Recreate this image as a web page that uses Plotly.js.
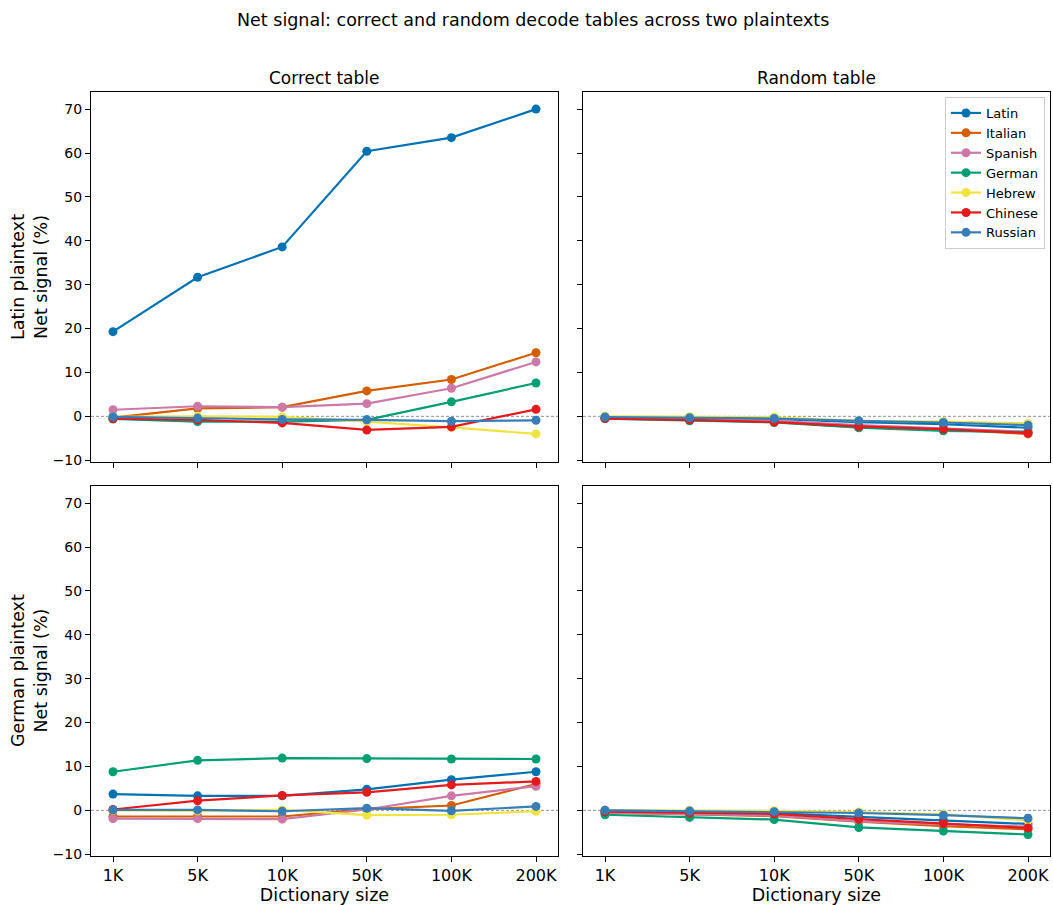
<!DOCTYPE html>
<html>
<head>
<meta charset="utf-8">
<script src="https://cdn.plot.ly/plotly-3.0.1.min.js"></script>
<style>html,body{margin:0;padding:0;background:#fff;}#chart{width:1053px;height:905px;}</style>
</head>
<body>
<div id="chart"></div>
<script>
const dictSizes = ["1K", "5K", "10K", "50K", "100K", "200K"];
const languages = ["Latin", "Italian", "Spanish", "German", "Hebrew", "Chinese", "Russian"];
const colors = ["#0072B2", "#D55E00", "#CC79A7", "#009E73", "#F0E442", "#E41A1C", "#377EB8"];

// Latin plaintext, correct table
const latinCorrect = {
  Latin:   [19.3, 31.7, 38.6, 60.4, 63.5, 70.0],
  Italian: [-0.3, 1.8, 2.1, 5.8, 8.4, 14.5],
  Spanish: [1.5, 2.3, 2.1, 2.9, 6.4, 12.4],
  German:  [-0.6, -1.2, -1.2, -0.8, 3.3, 7.6],
  Hebrew:  [-0.1, 0.0, -0.1, -1.2, -2.5, -4.0],
  Chinese: [-0.5, -0.8, -1.5, -3.1, -2.4, 1.6],
  Russian: [-0.1, -0.4, -0.7, -0.8, -1.1, -0.9]
};
// Latin plaintext, random table
const latinRandom = {
  Latin:   [-0.2, -0.4, -0.6, -1.3, -1.8, -2.6],
  Italian: [-0.4, -0.8, -1.2, -2.5, -3.0, -4.0],
  Spanish: [-0.3, -0.7, -1.0, -2.0, -2.7, -3.5],
  German:  [-0.5, -1.0, -1.4, -2.6, -3.3, -3.6],
  Hebrew:  [0.0, -0.1, -0.2, -1.0, -1.2, -1.6],
  Chinese: [-0.5, -0.8, -1.3, -2.3, -2.9, -3.8],
  Russian: [-0.15, -0.3, -0.5, -1.0, -1.4, -2.0]
};
const latinRandomErr = [0.15, 0.2, 0.25, 0.3, 0.35, 0.45];
// German plaintext, correct table
const germanCorrect = {
  Latin:   [3.7, 3.3, 3.3, 4.8, 7.0, 8.8],
  Italian: [-1.4, -1.4, -1.4, 0.3, 1.1, 6.0],
  Spanish: [-1.9, -1.9, -2.0, 0.2, 3.3, 5.5],
  German:  [8.8, 11.4, 11.9, 11.8, 11.7, 11.7],
  Hebrew:  [0.0, -0.1, 0.1, -1.1, -1.0, -0.2],
  Chinese: [0.2, 2.2, 3.4, 4.1, 5.8, 6.6],
  Russian: [0.1, 0.1, -0.2, 0.5, -0.1, 0.9]
};
// German plaintext, random table
const germanRandom = {
  Latin:   [0.0, -0.3, -0.6, -1.5, -2.3, -3.1],
  Italian: [-0.5, -0.9, -1.3, -2.6, -3.6, -4.3],
  Spanish: [-0.5, -0.8, -1.2, -2.5, -3.2, -3.7],
  German:  [-1.0, -1.6, -2.1, -3.9, -4.7, -5.5],
  Hebrew:  [0.0, 0.0, -0.1, -0.4, -0.9, -2.3],
  Chinese: [-0.3, -0.6, -0.8, -2.0, -3.0, -4.0],
  Russian: [0.0, -0.15, -0.3, -0.6, -1.1, -1.8]
};
const germanRandomErr = [0.2, 0.25, 0.35, 0.45, 0.55, 0.7];

const panels = [
  {data: latinCorrect, err: null, xa: "x", ya: "y", legend: false},
  {data: latinRandom, err: latinRandomErr, xa: "x2", ya: "y2", legend: true},
  {data: germanCorrect, err: null, xa: "x3", ya: "y3", legend: false},
  {data: germanRandom, err: germanRandomErr, xa: "x4", ya: "y4", legend: false}
];

const traces = [];
panels.forEach(p => {
  languages.forEach((lang, i) => {
    const t = {
      x: dictSizes,
      y: p.data[lang],
      name: lang,
      type: "scatter",
      mode: "lines+markers",
      xaxis: p.xa,
      yaxis: p.ya,
      line: {color: colors[i], width: 2.2},
      marker: {color: colors[i], size: 9},
      showlegend: p.legend,
      legendgroup: lang
    };
    if (p.err) {
      t.error_y = {type: "data", array: p.err, visible: true, color: colors[i], thickness: 1.2, width: 3};
    }
    traces.push(t);
  });
});

const W = 1053, H = 905;
const xl = [91/W, 558/W], xr = [583/W, 1050/W];
const yt = [1 - 462/H, 1 - 92/H], yb = [1 - 856/H, 1 - 486/H];
const yRange = [-10.4, 73.9];
const xRange = [-0.26, 5.26];
const font = "DejaVu Sans, sans-serif";

function xax(domain, anchor, showLabels, title) {
  const a = {
    domain: domain, anchor: anchor, range: xRange, type: "category",
    categoryorder: "array", categoryarray: dictSizes,
    showgrid: false, zeroline: false, showline: true, linecolor: "#000", linewidth: 1, mirror: true,
    ticks: "outside", ticklen: 5, tickcolor: "#000", tickwidth: 1,
    showticklabels: showLabels, tickfont: {family: font, size: 16, color: "#000"}
  };
  if (title) a.title = {text: title, font: {family: font, size: 17.5, color: "#000"}, standoff: 5};
  return a;
}
function yax(domain, anchor, showLabels) {
  return {
    domain: domain, anchor: anchor, range: yRange, tickvals: [-10, 0, 10, 20, 30, 40, 50, 60, 70],
    ticktext: ["\u221210", "0", "10", "20", "30", "40", "50", "60", "70"],
    showgrid: false, zeroline: false, showline: true, linecolor: "#000", linewidth: 1, mirror: true,
    ticks: "outside", ticklen: 5, tickcolor: "#000", tickwidth: 1,
    showticklabels: showLabels, tickfont: {family: font, size: 14, color: "#000"}
  };
}

const shapes = [["x","y"],["x2","y2"],["x3","y3"],["x4","y4"]].map(([xa, ya]) => ({
  type: "line", xref: xa + " domain", yref: ya, x0: 0, x1: 1, y0: 0, y1: 0,
  line: {color: "#888", width: 0.9, dash: "3px,2px"}, layer: "below"
}));

const ann = (text, x, y, size, extra) => Object.assign({
  text: text, x: x, y: y, xref: "paper", yref: "paper", showarrow: false,
  xanchor: "center", yanchor: "middle",
  font: {family: font, size: size, color: "#000"}
}, extra || {});

const layout = {
  width: W, height: H,
  margin: {l: 0, r: 0, t: 0, b: 0},
  paper_bgcolor: "#fff", plot_bgcolor: "#fff",
  font: {family: font, color: "#000"},
  xaxis: xax(xl, "y", false),
  yaxis: yax(yt, "x", true),
  xaxis2: xax(xr, "y2", false),
  yaxis2: yax(yt, "x2", false),
  xaxis3: xax(xl, "y3", true, "Dictionary size"),
  yaxis3: yax(yb, "x3", true),
  xaxis4: xax(xr, "y4", true, "Dictionary size"),
  yaxis4: yax(yb, "x4", false),
  shapes: shapes,
  showlegend: true,
  legend: {
    x: 1045/W, y: 1 - 97/H, xanchor: "right", yanchor: "top",
    bgcolor: "rgba(255,255,255,0.8)", bordercolor: "#ccc", borderwidth: 1,
    font: {family: font, size: 13, color: "#000"}, tracegroupgap: 0, itemwidth: 30
  },
  annotations: [
    ann("Net signal: correct and random decode tables across two plaintexts", 533/W, 1 - 20/H, 17.5),
    ann("Correct table", (xl[0]+xl[1])/2, 1 - 78/H, 17),
    ann("Random table", (xr[0]+xr[1])/2, 1 - 78/H, 17),
    ann("Latin plaintext<br>Net signal (%)", 29/W, (yt[0]+yt[1])/2, 17.5, {textangle: -90}),
    ann("German plaintext<br>Net signal (%)", 29/W, (yb[0]+yb[1])/2, 17.5, {textangle: -90})
  ]
};

Plotly.newPlot("chart", traces, layout, {staticPlot: true, displayModeBar: false});
</script>
</body>
</html>
